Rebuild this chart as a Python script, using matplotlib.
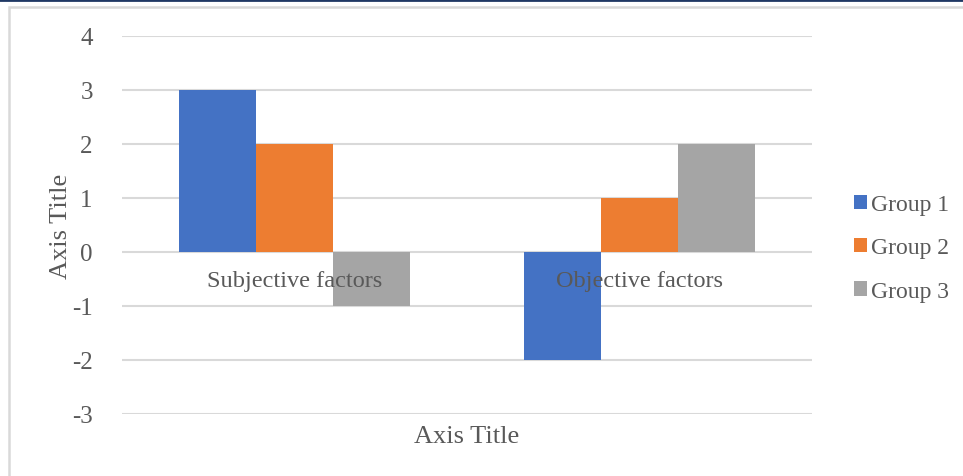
import numpy as np
import matplotlib.pyplot as plt
from matplotlib.patches import Rectangle

categories = ['Subjective factors', 'Objective factors']
groups = ['Group 1', 'Group 2', 'Group 3']
group1 = [3, -2]
group2 = [2, 1]
group3 = [-1, 2]
colors = ['#4472C4', '#ED7D31', '#A5A5A5']
yticks = [-3, -2, -1, 0, 1, 2, 3, 4]

plt.rcParams['font.family'] = ['Liberation Serif', 'DejaVu Serif']
txt = '#595959'

W, H = 963, 477
fig = plt.figure(figsize=(W/100, H/100), dpi=100)

# chart frame
fig.add_artist(Rectangle((8.5/W, -0.1), 1.2, 1 - 7.5/H + 0.1, transform=fig.transFigure,
                         fill=False, edgecolor='#D9D9D9', linewidth=1.8))
fig.add_artist(plt.Line2D([0, 1], [1 - 1/H, 1 - 1/H], transform=fig.transFigure,
                          color='#1F3864', linewidth=2))

left, right, top, bottom = 122, 812, 37, 415
ax = fig.add_axes([left/W, 1 - bottom/H, (right-left)/W, (bottom-top)/H])

x = np.arange(len(categories))
bw = 0.2232
for i, (vals, c) in enumerate(zip([group1, group2, group3], colors)):
    ax.bar(x + (i-1)*bw, vals, bw, color=c, label=groups[i], zorder=3)

ax.set_xlim(-0.5, 1.5)
ax.set_ylim(-3, 4)
ax.set_yticks(yticks)
ax.set_yticklabels([str(v) for v in yticks], fontsize=18, color=txt)
ax.tick_params(axis='y', length=0, pad=21)
ax.set_xticks([])
ax.grid(axis='y', color='#D9D9D9', linewidth=1.5, zorder=0)
for s in ax.spines.values():
    s.set_visible(False)

for xi, lab in zip(x, categories):
    ax.text(xi, -0.52, lab, ha='center', va='center', fontsize=17.5, color=txt, zorder=4)

fig.text(467/W, 1 - 437/H, 'Axis Title', ha='center', va='center', fontsize=19, color=txt)
fig.text(61/W, 1 - 226/H, 'Axis Title', ha='center', va='center', rotation=90,
         fontsize=19, color=txt)

leg = ax.legend(loc='center left', bbox_to_anchor=(833/W, 1 - 249/H),
                bbox_transform=fig.transFigure, frameon=False, fontsize=17,
                handlelength=0.55, handleheight=0.55, handletextpad=0.15,
                labelspacing=0.95, labelcolor=txt)

fig.savefig('out.png', dpi=100)
